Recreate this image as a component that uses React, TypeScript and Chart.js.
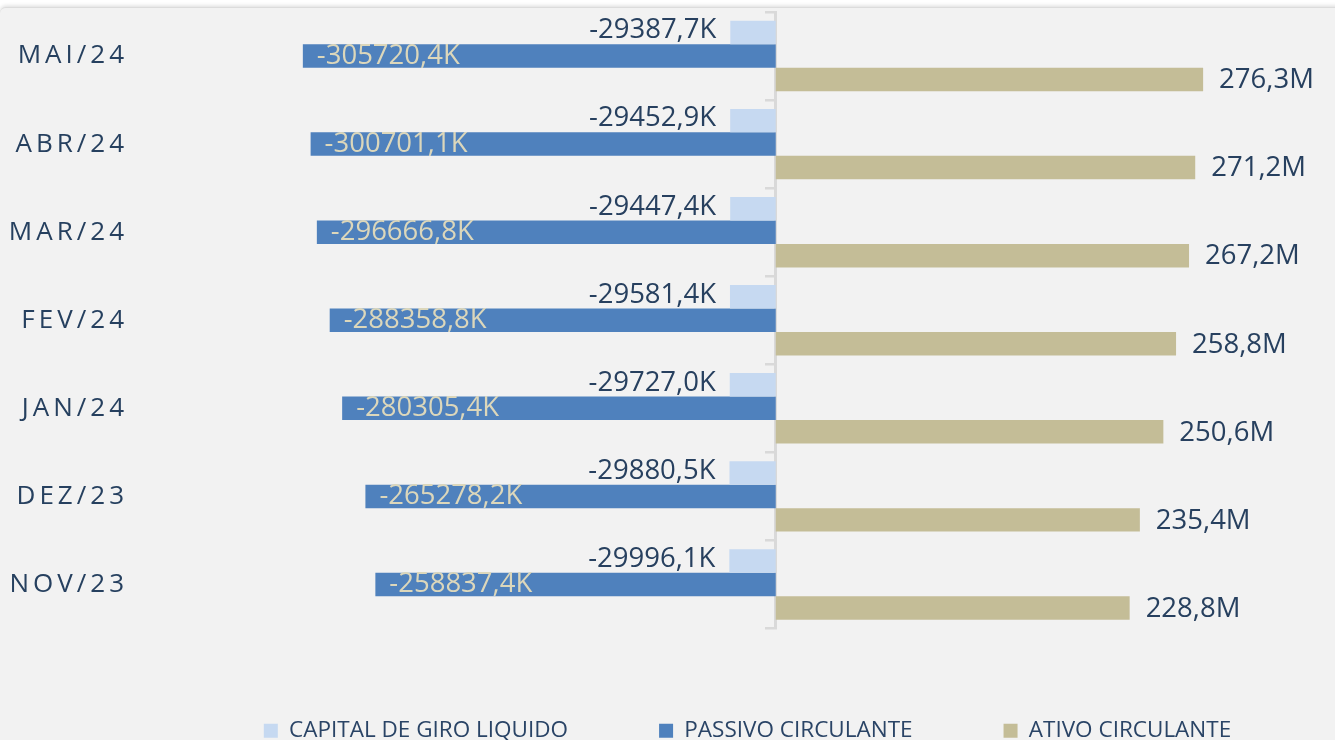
import { useEffect, useRef } from 'react';
import { Chart, registerables } from 'chart.js';

Chart.register(...registerables);

// ---- data (values in thousands) ----
const categories = ['MAI/24', 'ABR/24', 'MAR/24', 'FEV/24', 'JAN/24', 'DEZ/23', 'NOV/23'];
const seriesNames = ['CAPITAL DE GIRO LIQUIDO', 'PASSIVO CIRCULANTE', 'ATIVO CIRCULANTE'];
const capitalGiroLiquido = [-29387.7, -29452.9, -29447.4, -29581.4, -29727.0, -29880.5, -29996.1];
const passivoCirculante = [-305720.4, -300701.1, -296666.8, -288358.8, -280305.4, -265278.2, -258837.4];
const ativoCirculante = [276300, 271200, 267200, 258800, 250600, 235400, 228800];

const DARK = '#27405f';
const LIGHT_TAN = '#dcd7bb';
const COLORS = ['#c6d9f1', '#4f81bd', '#c4bd97'];

const fmtK = (v: number) => v.toFixed(1).replace('.', ',') + 'K';
const fmtM = (v: number) => (v / 1000).toFixed(1).replace('.', ',') + 'M';

const valueLabels = {
  id: 'valueLabels',
  afterDatasetsDraw(chart: any) {
    const ctx = chart.ctx;
    ctx.save();
    ctx.font = '27.5px "Open Sans"';
    ctx.textBaseline = 'middle';
    chart.data.datasets.forEach((ds: any, i: number) => {
      const meta = chart.getDatasetMeta(i);
      meta.data.forEach((el: any, j: number) => {
        const v = ds.data[j];
        if (i === 0) {
          ctx.fillStyle = DARK;
          ctx.textAlign = 'right';
          ctx.fillText(fmtK(v), el.x - 14, el.y - 2);
        } else if (i === 1) {
          ctx.fillStyle = LIGHT_TAN;
          ctx.textAlign = 'left';
          ctx.fillText(fmtK(v), el.x + 14, el.y);
        } else {
          ctx.fillStyle = DARK;
          ctx.textAlign = 'left';
          ctx.fillText(fmtM(v), el.x + 16, el.y + 1);
        }
      });
    });
    ctx.restore();
  },
};

const spacedLabels = {
  id: 'spacedLabels',
  beforeDraw(chart: any) {
    const s = chart.scales.y2;
    if (s && !s._lsPatched) {
      const orig = s.drawLabels.bind(s);
      s.drawLabels = (area: any) => {
        const ctx = s.ctx;
        ctx.save();
        ctx.letterSpacing = '4px';
        orig(area);
        ctx.restore();
      };
      s._lsPatched = true;
    }
  },
};

export default function App() {
  const ref = useRef<HTMLCanvasElement | null>(null);

  useEffect(() => {
    if (!ref.current) return;
    const chart = new Chart(ref.current, {
      type: 'bar',
      data: {
        labels: categories,
        datasets: [
          { label: seriesNames[0], data: capitalGiroLiquido, backgroundColor: COLORS[0], borderWidth: 0 },
          { label: seriesNames[1], data: passivoCirculante, backgroundColor: COLORS[1], borderWidth: 0 },
          { label: seriesNames[2], data: ativoCirculante, backgroundColor: COLORS[2], borderWidth: 0 },
        ],
      },
      options: {
        indexAxis: 'y',
        responsive: false,
        animation: false,
        events: [],
        layout: { padding: { top: 4, left: 0, right: 0, bottom: 0 } },
        datasets: { bar: { categoryPercentage: 0.8, barPercentage: 1 } },
        scales: {
          x: { type: 'linear', display: false, min: -411000, max: 465000 },
          y: {
            type: 'category',
            position: { x: 0 },
            z: 1,
            offset: true,
            ticks: { display: false },
            grid: {
              offset: true,
              drawOnChartArea: false,
              drawTicks: true,
              tickLength: 9,
              color: '#d9d9d9',
              lineWidth: 2.5,
            },
            border: { display: true, color: '#d9d9d9', width: 3 },
          },
          y2: {
            type: 'category',
            axis: 'y',
            position: 'left',
            offset: true,
            grid: { display: false },
            border: { display: false },
            ticks: { color: '#26405f', font: { family: '"Open Sans"', size: 26 }, padding: 4 },
            afterFit: (scale: any) => {
              scale.width = 140;
              scale.paddingTop = 0;
              scale.paddingBottom = 0;
            },
          },
        },
        plugins: {
          tooltip: { enabled: false },
          legend: {
            position: 'bottom',
            labels: {
              boxWidth: 14,
              boxHeight: 14,
              padding: 91,
              color: '#2a4466',
              font: { family: '"Open Sans"', size: 22.5 },
            },
          },
        },
      },
      plugins: [valueLabels, spacedLabels],
    } as any);
    return () => chart.destroy();
  }, []);

  return (
    <div style={{ position: 'fixed', left: 0, top: 0, right: 0, bottom: 0, background: '#ffffff', overflow: 'hidden' }}>
      <div
        style={{
          position: 'absolute',
          left: 0,
          top: 7,
          width: 1500,
          height: 800,
          background: '#f2f2f2',
          borderRadius: 6,
          borderTop: '1px solid #dcdcdc',
          boxShadow: '0 -1px 4px rgba(0,0,0,0.15)',
        }}
      >
        <canvas ref={ref} width={1495} height={744} style={{ display: 'block', width: 1495, height: 744 }} />
      </div>
    </div>
  );
}
